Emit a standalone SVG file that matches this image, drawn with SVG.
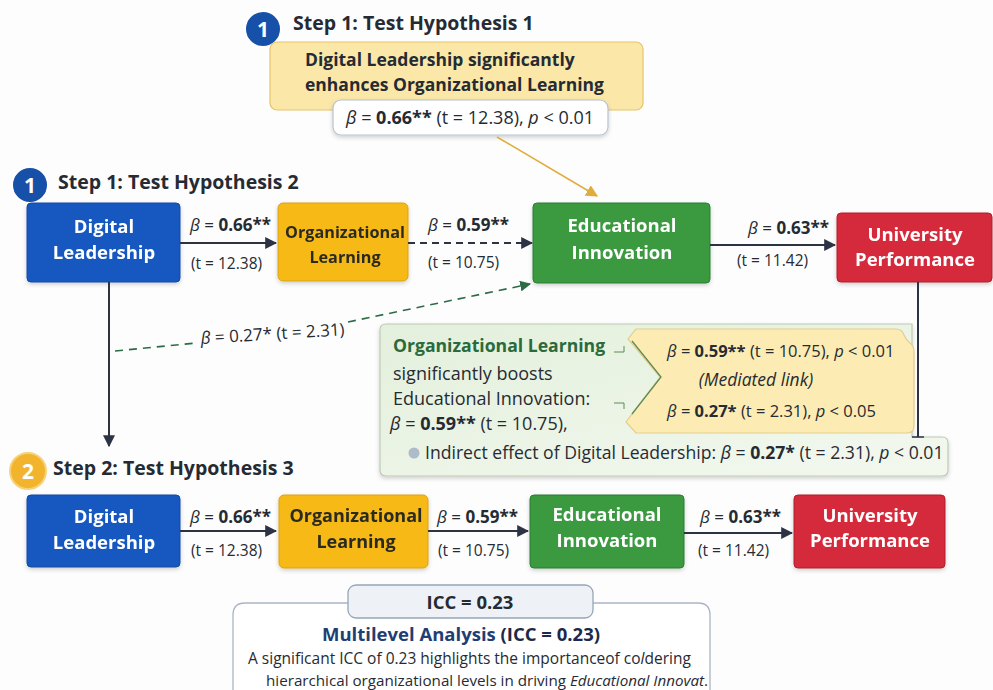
<svg xmlns="http://www.w3.org/2000/svg" width="993" height="690" viewBox="0 0 993 690">
  <defs>
    <style>
      text { font-family: "Open Sans", "Noto Sans", "DejaVu Sans", sans-serif; fill: #262b33; }
      .step { font-size: 19.5px; font-weight: 700; }
      .node-t { font-size: 18.5px; font-weight: 700; fill: #ffffff; text-anchor: middle; }
      .node-d { font-size: 17px; font-weight: 700; fill: #2a2a22; text-anchor: middle; }
      .coef { font-size: 17px; }
      .tval { font-size: 15.5px; }
      .b { font-weight: 700; }
      .i { font-style: italic; }
      .badge { font-size: 21px; font-weight: 700; fill: #ffffff; text-anchor: middle; }
      .blue { fill: #1658c0; stroke: #0f4aa2; stroke-width: 1; }
      .amber { fill: #f6b915; stroke: #dba316; stroke-width: 1; }
      .green { fill: #3b9a40; stroke: #2c7c31; stroke-width: 1; }
      .red { fill: #d52b3a; stroke: #b21f2e; stroke-width: 1; }
      .arrow { stroke: #2b3345; stroke-width: 2; fill: none; }
      .note { font-size: 18px; }
      .note-y { font-size: 16.5px; }
    </style>
    <marker id="ahd" viewBox="0 0 10 10" refX="9" refY="5" markerWidth="12" markerHeight="12" orient="auto" markerUnits="userSpaceOnUse">
      <path d="M0,0 L10,5 L0,10 z" fill="#2b3345"/>
    </marker>
    <marker id="ahg" viewBox="0 0 10 10" refX="9" refY="5" markerWidth="11" markerHeight="11" orient="auto" markerUnits="userSpaceOnUse">
      <path d="M0,0 L10,5 L0,10 z" fill="#2d6b47"/>
    </marker>
    <marker id="ahy" viewBox="0 0 10 10" refX="9" refY="5" markerWidth="12" markerHeight="12" orient="auto" markerUnits="userSpaceOnUse">
      <path d="M0,0 L10,5 L0,10 z" fill="#e0ad3a"/>
    </marker>
    <filter id="sh" x="-10%" y="-10%" width="120%" height="130%">
      <feDropShadow dx="0" dy="2" stdDeviation="2" flood-color="#000000" flood-opacity="0.18"/>
    </filter>
    <linearGradient id="gbox" x1="0" y1="0" x2="1" y2="1">
      <stop offset="0" stop-color="#e3f0dc"/>
      <stop offset="1" stop-color="#f3f8ef"/>
    </linearGradient>
  </defs>

  <rect width="993" height="690" fill="#fdfdfd"/>

  <!-- Hypothesis 1 callout -->
  <g id="h1-callout">
    <circle cx="263" cy="29" r="18" fill="#1650a8" stroke="#ffffff" stroke-width="2"/>
    <text class="badge" x="263" y="37">1</text>
    <text class="step" x="293" y="30">Step 1: Test Hypothesis 1</text>
    <rect x="270" y="42" width="373" height="68" rx="7" fill="#fbe8a8" stroke="#e6c46a" stroke-width="1.2"/>
    <text x="305" y="66" style="font-size:17.5px;font-weight:700">Digital Leadership significantly</text>
    <text x="305" y="91" style="font-size:17.5px;font-weight:700">enhances Organizational Learning</text>
    <rect x="333" y="100" width="275" height="35" rx="8" fill="#ffffff" stroke="#b6c2d2" stroke-width="1.2" filter="url(#sh)"/>
    <text x="470" y="124" text-anchor="middle" style="font-size:18px"><tspan class="i">β</tspan> = <tspan class="b">0.66**</tspan> (t = 12.38), <tspan class="i">p</tspan> &lt; 0.01</text>
  </g>

  <!-- Step 1 heading -->
  <g id="step1-label">
    <circle cx="30" cy="185" r="18" fill="#1650a8" stroke="#ffffff" stroke-width="2"/>
    <text class="badge" x="30" y="193">1</text>
    <text class="step" x="58" y="189">Step 1: Test Hypothesis 2</text>
  </g>

  <!-- Row 1 nodes -->
  <g id="dl1" filter="url(#sh)">
    <rect class="blue" x="27" y="203" width="153" height="79" rx="4"/>
    <text class="node-t" x="104" y="233">Digital</text>
    <text class="node-t" x="104" y="259">Leadership</text>
  </g>
  <g id="ol1" filter="url(#sh)">
    <rect class="amber" x="278" y="203" width="130" height="78" rx="5"/>
    <text class="node-d" x="345" y="238" style="font-size:16.2px">Organizational</text>
    <text class="node-d" x="345" y="263" style="font-size:16.2px">Learning</text>
  </g>
  <g id="ei1" filter="url(#sh)">
    <rect class="green" x="533" y="203" width="177" height="80" rx="4"/>
    <text class="node-t" x="622" y="232">Educational</text>
    <text class="node-t" x="622" y="259">Innovation</text>
  </g>
  <g id="up1" filter="url(#sh)">
    <rect class="red" x="837" y="213" width="155" height="69" rx="4"/>
    <text class="node-t" x="915" y="241">University</text>
    <text class="node-t" x="915" y="266">Performance</text>
  </g>

  <!-- Step 2 heading -->
  <g id="step2-label">
    <circle cx="28" cy="471" r="18" fill="#f2b42c" stroke="#f7d27a" stroke-width="2"/>
    <text class="badge" x="28" y="479">2</text>
    <text class="step" x="53" y="475">Step 2: Test Hypothesis 3</text>
  </g>

  <!-- Row 2 nodes -->
  <g id="dl2" filter="url(#sh)">
    <rect class="blue" x="27" y="495" width="153" height="72" rx="4"/>
    <text class="node-t" x="104" y="523">Digital</text>
    <text class="node-t" x="104" y="549">Leadership</text>
  </g>
  <g id="ol2" filter="url(#sh)">
    <rect class="amber" x="279" y="495" width="149" height="73" rx="5"/>
    <text class="node-d" x="356" y="522" style="font-size:18px">Organizational</text>
    <text class="node-d" x="356" y="548" style="font-size:18px">Learning</text>
  </g>
  <g id="ei2" filter="url(#sh)">
    <rect class="green" x="530" y="495" width="154" height="73" rx="4"/>
    <text class="node-t" x="607" y="521">Educational</text>
    <text class="node-t" x="607" y="547">Innovation</text>
  </g>
  <g id="up2" filter="url(#sh)">
    <rect class="red" x="794" y="495" width="151" height="73" rx="4"/>
    <text class="node-t" x="870" y="522">University</text>
    <text class="node-t" x="870" y="547">Performance</text>
  </g>

  <!-- Mediation callout -->
  <g id="mediation-note">
    <path d="M386,324 H912 V437 H942 Q948,437 948,443 V470 Q948,476 942,476 H386 Q380,476 380,470 V330 Q380,324 386,324 Z" fill="url(#gbox)" stroke="#bccab4" stroke-width="1.2" filter="url(#sh)"/>
    <path d="M636,329 H896 Q902,329 904,335 Q906,340 910,343 Q914,346 914,352 V426 Q914,433 907,433 H636 L626,422 L660,377 L628,339 Z" fill="#fcecb4" stroke="#e3cd8c" stroke-width="1.2"/>
    <path d="M632,341 L661,377 L632,414" fill="none" stroke="#5f8a55" stroke-width="1.3"/>
    <path d="M614,352 H624 V346" fill="none" stroke="#5f8a55" stroke-width="1"/>
    <path d="M614,403 H624 V409" fill="none" stroke="#5f8a55" stroke-width="1"/>
    <text x="393" y="352" class="b" style="font-size:17.6px;fill:#2b6a3b">Organizational Learning</text>
    <text x="393" y="380" class="note">significantly boosts</text>
    <text x="393" y="405" class="note">Educational Innovation:</text>
    <text x="390" y="430" class="note"><tspan class="i">β</tspan> = <tspan class="b">0.59**</tspan> (t = 10.75),</text>
    <text x="667" y="357" class="note-y"><tspan class="i">β</tspan> = <tspan class="b">0.59**</tspan> (t = 10.75), <tspan class="i">p</tspan> &lt; 0.01</text>
    <text x="756" y="386" class="i" text-anchor="middle" style="font-size:17.5px">(Mediated link)</text>
    <text x="667" y="417" class="note-y"><tspan class="i">β</tspan> = <tspan class="b">0.27*</tspan> (t = 2.31), <tspan class="i">p</tspan> &lt; 0.05</text>
    <circle cx="414" cy="453" r="5.5" fill="#aebbc9"/>
    <text x="425" y="459" style="font-size:17.6px">Indirect effect of Digital Leadership:  <tspan class="i">β</tspan> = <tspan class="b">0.27*</tspan> (t = 2.31), <tspan class="i">p</tspan> &lt; 0.01</text>
  </g>

  <!-- Multilevel analysis -->
  <g id="multilevel">
    <path d="M233,690 V615 Q233,603 245,603 H698 Q710,603 710,615 V690" fill="#ffffff" stroke="#a9b5c5" stroke-width="1.3"/>
    <rect x="348" y="585" width="245" height="33" rx="8" fill="#eef2f7" stroke="#97a5b8" stroke-width="1.3"/>
    <text x="470" y="609" text-anchor="middle" style="font-size:18.5px;font-weight:700">ICC = 0.23</text>
    <text x="461" y="641" text-anchor="middle" style="font-size:18.5px;font-weight:700"><tspan style="fill:#1f3f73">Multilevel Analysis</tspan> <tspan style="fill:#1a2a48">(ICC = 0.23)</tspan></text>
    <text x="248" y="664" style="font-size:15.5px">A significant ICC of 0.23 highlights the importanceof co<tspan class="i">l</tspan>dering</text>
    <text x="266" y="686" style="font-size:15.2px">hierarchical organizational levels in driving <tspan class="i">Educational Innovat</tspan>.</text>
  </g>

  <!-- Connectors -->
  <g id="connectors">
    <!-- hypothesis 1 pointer -->
    <line x1="497" y1="137" x2="597" y2="196" stroke="#e0ad3a" stroke-width="1.5" marker-end="url(#ahy)"/>

    <!-- row 1 -->
    <line class="arrow" x1="180" y1="243" x2="276" y2="243" marker-end="url(#ahd)"/>
    <line class="arrow" x1="408" y1="243" x2="532" y2="243" stroke-dasharray="7 5" stroke-width="1.5" marker-end="url(#ahd)"/>
    <line class="arrow" x1="710" y1="245" x2="835" y2="245" marker-end="url(#ahd)"/>
    <text x="190" y="231" class="coef"><tspan class="i">β</tspan> = <tspan class="b">0.66**</tspan></text>
    <text x="191" y="269" class="tval">(t = 12.38)</text>
    <text x="428" y="231" class="coef"><tspan class="i">β</tspan> = <tspan class="b">0.59**</tspan></text>
    <text x="428" y="268" class="tval">(t = 10.75)</text>
    <text x="748" y="234" class="coef"><tspan class="i">β</tspan> = <tspan class="b">0.63**</tspan></text>
    <text x="737" y="266" class="tval">(t = 11.42)</text>

    <!-- direct effect, dashed -->
    <path d="M115,351 L196,343" stroke="#2d6b47" stroke-width="1.6" stroke-dasharray="8 6" fill="none"/>
    <path d="M348,322 L530,284" stroke="#2d6b47" stroke-width="1.6" stroke-dasharray="8 6" fill="none" marker-end="url(#ahg)"/>
    <text x="201" y="344" class="coef" transform="rotate(-3.5 201 344)"><tspan class="i">β</tspan> = 0.27* (t = 2.31)</text>

    <!-- step 1 to step 2 -->
    <line class="arrow" x1="109" y1="282" x2="109" y2="446" marker-end="url(#ahd)"/>

    <!-- outcome drop line -->
    <line x1="918" y1="282" x2="918" y2="437" stroke="#2b3345" stroke-width="2"/>
    <line x1="912" y1="437" x2="924" y2="437" stroke="#2b3345" stroke-width="1.5"/>

    <!-- row 2 -->
    <line class="arrow" x1="180" y1="531" x2="276" y2="531" marker-end="url(#ahd)"/>
    <line class="arrow" x1="428" y1="531" x2="528" y2="531" marker-end="url(#ahd)"/>
    <line class="arrow" x1="684" y1="533" x2="792" y2="533" marker-end="url(#ahd)"/>
    <text x="190" y="523" class="coef"><tspan class="i">β</tspan> = <tspan class="b">0.66**</tspan></text>
    <text x="191" y="556" class="tval">(t = 12.38)</text>
    <text x="437" y="523" class="coef"><tspan class="i">β</tspan> = <tspan class="b">0.59**</tspan></text>
    <text x="438" y="556" class="tval">(t = 10.75)</text>
    <text x="700" y="523" class="coef"><tspan class="i">β</tspan> = <tspan class="b">0.63**</tspan></text>
    <text x="698" y="556" class="tval">(t = 11.42)</text>
  </g>
</svg>
